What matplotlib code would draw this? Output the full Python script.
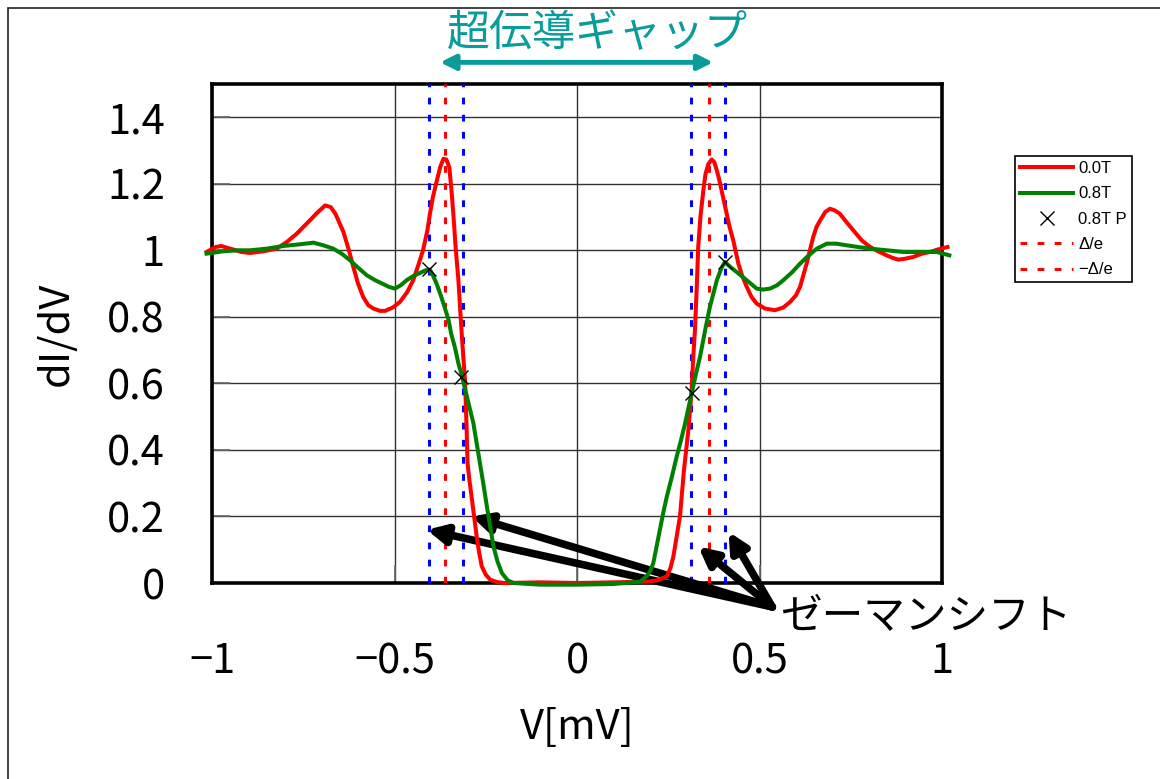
import matplotlib
matplotlib.use('Agg')
from matplotlib import pyplot as plt
from matplotlib.patches import Rectangle

plt.rcParams['font.family'] = ['Noto Sans CJK JP', 'DejaVu Sans']

# 0.0T curve
x_00 = [-1.015, -0.99, -0.975, -0.95, -0.92, -0.896, -0.86, -0.823, -0.795, -0.768,
        -0.75, -0.732, -0.71, -0.69, -0.675, -0.662, -0.65, -0.64, -0.625, -0.613,
        -0.60, -0.586, -0.572, -0.558, -0.54, -0.526, -0.505, -0.485, -0.465, -0.449,
        -0.435, -0.422, -0.41, -0.403, -0.395, -0.384, -0.375, -0.366, -0.358, -0.35,
        -0.344, -0.339, -0.332, -0.325, -0.32, -0.316, -0.311, -0.307, -0.303, -0.30,
        -0.295, -0.289, -0.282, -0.275, -0.268, -0.261, -0.25, -0.238, -0.22, -0.2,
        -0.1, 0.0, 0.1, 0.19, 0.22, 0.246, 0.256, 0.264, 0.273, 0.282,
        0.293, 0.305, 0.314, 0.318, 0.323, 0.328, 0.332, 0.338, 0.346, 0.352,
        0.36, 0.369, 0.376, 0.383, 0.39, 0.396, 0.403, 0.41, 0.418, 0.428,
        0.442, 0.452, 0.465, 0.478, 0.492, 0.515, 0.542, 0.565, 0.584, 0.60,
        0.611, 0.62, 0.629, 0.638, 0.647, 0.656, 0.666, 0.68, 0.693, 0.706,
        0.72, 0.738, 0.757, 0.78, 0.803, 0.825, 0.848, 0.865, 0.88, 0.9,
        0.921, 0.945, 0.967, 0.99, 1.015]
y_00 = [0.995, 1.01, 1.013, 1.005, 0.995, 0.992, 0.997, 1.005, 1.025, 1.05,
        1.07, 1.09, 1.115, 1.135, 1.13, 1.11, 1.08, 1.055, 1.0, 0.95,
        0.9, 0.86, 0.835, 0.825, 0.818, 0.818, 0.828, 0.845, 0.875, 0.91,
        0.955, 1.0, 1.06, 1.11, 1.16, 1.21, 1.25, 1.275, 1.273, 1.25,
        1.18, 1.11, 1.0, 0.91, 0.82, 0.75, 0.67, 0.61, 0.48, 0.36,
        0.31, 0.26, 0.2, 0.14, 0.09, 0.05, 0.025, 0.01, 0.003, 0.0,
        0.002, 0.0, 0.002, 0.004, 0.008, 0.02, 0.045, 0.08, 0.14, 0.2,
        0.34, 0.46, 0.58, 0.67, 0.76, 0.89, 1.01, 1.1, 1.18, 1.23,
        1.26, 1.273, 1.265, 1.24, 1.21, 1.18, 1.145, 1.11, 1.07, 1.03,
        0.96, 0.925, 0.89, 0.86, 0.84, 0.825, 0.82, 0.828, 0.845, 0.865,
        0.89, 0.925, 0.96, 1.0, 1.04, 1.07, 1.09, 1.115, 1.125, 1.12,
        1.11, 1.085, 1.06, 1.03, 1.01, 0.997, 0.985, 0.977, 0.972, 0.975,
        0.98, 0.99, 0.995, 1.003, 1.01]

# 0.8T curve
x_08 = [-1.015, -0.97, -0.93, -0.896, -0.85, -0.805, -0.76, -0.722, -0.695, -0.668,
        -0.645, -0.622, -0.60, -0.576, -0.553, -0.53, -0.515, -0.499, -0.483, -0.467,
        -0.45, -0.43, -0.415, -0.403, -0.395, -0.385, -0.375, -0.363, -0.352, -0.345,
        -0.335, -0.325, -0.316, -0.305, -0.295, -0.284, -0.275, -0.266, -0.257, -0.247,
        -0.238, -0.229, -0.218, -0.206, -0.19, -0.174, -0.1, 0.0, 0.1, 0.173,
        0.19, 0.2, 0.209, 0.218, 0.227, 0.236, 0.246, 0.26, 0.273, 0.285,
        0.296, 0.305, 0.314, 0.325, 0.337, 0.344, 0.351, 0.364, 0.383, 0.395,
        0.405, 0.42, 0.437, 0.465, 0.492, 0.51, 0.529, 0.548, 0.565, 0.59,
        0.611, 0.635, 0.657, 0.684, 0.71, 0.739, 0.77, 0.803, 0.85, 0.894,
        0.94, 0.986, 1.02]
y_08 = [0.99, 0.997, 1.0, 1.0, 1.005, 1.013, 1.018, 1.023, 1.015, 1.005,
        0.99, 0.97, 0.948, 0.925, 0.91, 0.898, 0.89, 0.885, 0.895, 0.91,
        0.922, 0.932, 0.94, 0.942, 0.925, 0.9, 0.87, 0.83, 0.79, 0.75,
        0.71, 0.66, 0.625, 0.575, 0.53, 0.48, 0.42, 0.36, 0.3, 0.23,
        0.17, 0.11, 0.065, 0.03, 0.008, 0.0, -0.005, -0.005, -0.003, 0.004,
        0.02, 0.035, 0.06, 0.11, 0.16, 0.21, 0.26, 0.32, 0.38, 0.43,
        0.48, 0.525, 0.57, 0.625, 0.68, 0.72, 0.76, 0.83, 0.91, 0.945,
        0.965, 0.95, 0.935, 0.91, 0.885, 0.882, 0.885, 0.895, 0.91, 0.935,
        0.96, 0.985, 1.005, 1.02, 1.02, 1.015, 1.01, 1.005, 1.0, 0.995,
        0.995, 0.995, 0.985]

# 0.8T peak points
px_08 = [-0.405, -0.318, 0.315, 0.405]
py_08 = [0.945, 0.62, 0.57, 0.965]

gap = 0.362          # Delta/e
zeeman = [-0.405, -0.312, 0.313, 0.406]
arrow_tips = [(-0.412, 0.16), (-0.289, 0.20), (0.332, 0.11), (0.415, 0.154)]

xticks = [-1, -0.5, 0, 0.5, 1]
xticklabels = ['\u22121', '\u22120.5', '0', '0.5', '1']
yticks = [0, 0.2, 0.4, 0.6, 0.8, 1, 1.2, 1.4]
yticklabels = ['0', '0.2', '0.4', '0.6', '0.8', '1', '1.2', '1.4']

fig = plt.figure(figsize=(11.6, 7.79), dpi=100)
ax = fig.add_axes([0.1828, 0.2516, 0.6293, 0.6406])

# outer frame of the slide
fig.patches.append(Rectangle((8 / 1160, -0.2), 1.2, 1.2 - 8 / 779,
                             transform=fig.transFigure, fill=False,
                             edgecolor='#222222', lw=1.2))

ax.plot(x_00, y_00, color='#ff0000', lw=2.9, clip_on=False, zorder=4, label='0.0T')
ax.plot(x_08, y_08, color='#008000', lw=2.9, clip_on=False, zorder=5, label='0.8T')
ax.plot(px_08, py_08, 'x', color='black', ms=10, mew=1.0, zorder=6, label='0.8T P')

dash = (0, (2.2, 3.4))
ax.axvline(gap, color='#ff0000', lw=2.2, ls=dash, zorder=3, label='\u0394/e')
ax.axvline(-gap, color='#ff0000', lw=2.2, ls=dash, zorder=3, label='\u2212\u0394/e')
for zx in zeeman:
    ax.axvline(zx, color='#0000ff', lw=2.2, ls=dash, zorder=3)

ax.set_xlim(-1, 1)
ax.set_ylim(0, 1.5)
ax.set_xticks(xticks)
ax.set_xticklabels(xticklabels)
ax.set_yticks(yticks)
ax.set_yticklabels(yticklabels)
ax.grid(True, color='#333333', lw=1.0)
ax.set_axisbelow(True)
ax.tick_params(axis='both', direction='in', length=13, width=1.2, color='#666666',
               labelsize=30)
ax.tick_params(axis='x', pad=42)
ax.tick_params(axis='y', pad=34)
for sp in ax.spines.values():
    sp.set_linewidth(2.6)
    sp.set_color('black')

ax.set_xlabel('V[mV]', fontsize=30, labelpad=18)
ax.set_ylabel('dI/dV', fontsize=30, labelpad=22)

# Zeeman shift arrows
tail = (0.535, -0.072)
for tip in arrow_tips:
    ax.annotate('', xy=tip, xytext=tail, annotation_clip=False,
                arrowprops=dict(arrowstyle='-|>,head_length=1.1,head_width=0.55',
                                lw=5.5, color='black', shrinkA=0, shrinkB=0))
ax.text(0.555, -0.105, 'ゼーマンシフト', fontsize=30, ha='left', va='center',
        clip_on=False)

# superconducting gap
teal = '#0a9b9b'
ax.annotate('', xy=(-0.375, 1.565), xytext=(0.373, 1.565), annotation_clip=False,
            arrowprops=dict(arrowstyle='<|-|>,head_length=0.9,head_width=0.45',
                            lw=3.5, color=teal, shrinkA=0, shrinkB=0))
ax.text(0.055, 1.65, '超伝導ギャップ', fontsize=31, color=teal, ha='center',
        va='center', clip_on=False)

leg = fig.legend(loc='upper left', bbox_to_anchor=(1015 / 1160, 1 - 156 / 779),
                 fontsize=12, frameon=True, fancybox=False, edgecolor='black',
                 framealpha=1, handlelength=3.2, handletextpad=0.3,
                 labelspacing=0.62, borderpad=0.3, borderaxespad=0)
leg.get_frame().set_linewidth(1.2)
for t in leg.get_texts():
    t.set_family(['Liberation Sans', 'DejaVu Sans'])

fig.savefig('out.png', dpi=100)
